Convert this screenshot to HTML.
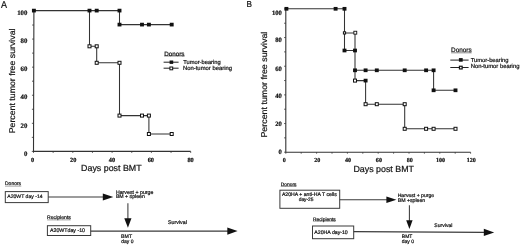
<!DOCTYPE html>
<html><head><meta charset="utf-8"><style>
html,body{margin:0;padding:0;background:#fff;width:520px;height:245px;overflow:hidden}
svg{display:block;will-change:transform;text-rendering:geometricPrecision}
text{font-family:"Liberation Sans",sans-serif;stroke:#151515;stroke-width:0.22px}
.tA{font-family:"Liberation Serif",serif;font-weight:bold;font-size:6.8px;fill:#151515}
.tAx{font-family:"Liberation Serif",serif;font-weight:bold;font-size:6.3px;fill:#151515}
.tBy{font-family:"Liberation Serif",serif;font-weight:bold;font-size:6.6px;fill:#151515}
.tB{font-family:"Liberation Serif",serif;font-weight:bold;font-size:6.1px;fill:#151515}
</style></head><body>
<svg width="520" height="245" viewBox="0 0 520 245">
<rect width="520" height="245" fill="#fff"/>
<text transform="translate(0.9 8.35) scale(0.9 1)" font-size="10" fill="#151515" stroke="#151515" stroke-width="0.25">A</text>
<text transform="translate(246.6 6.6) scale(0.95 1)" font-size="8.6" fill="#151515" stroke="#151515" stroke-width="0.15">B</text>
<path d="M33.9 11.00L33.5 151.40H190.70" fill="none" stroke="#333" stroke-width="1.1"/>
<path d="M31.80 151.40H33.50M31.84 137.36H33.54M31.88 123.32H33.58M31.92 109.28H33.62M31.96 95.24H33.66M32.00 81.20H33.70M32.04 67.16H33.74M32.08 53.12H33.78M32.12 39.08H33.82M32.16 25.04H33.86M32.20 11.00H33.90M33.50 151.40V152.90M53.15 151.40V152.90M72.80 151.40V152.90M92.45 151.40V152.90M112.10 151.40V152.90M131.75 151.40V152.90M151.40 151.40V152.90M171.05 151.40V152.90M190.70 151.40V152.90" fill="none" stroke="#333" stroke-width="0.8"/>
<text x="27.4" y="14.95" class="tA" text-anchor="end">100</text>
<text x="27.4" y="42.80" class="tA" text-anchor="end">80</text>
<text x="27.4" y="71.30" class="tA" text-anchor="end">60</text>
<text x="27.4" y="98.80" class="tA" text-anchor="end">40</text>
<text x="27.4" y="128.30" class="tA" text-anchor="end">20</text>
<text x="27.4" y="155.50" class="tA" text-anchor="end">0</text>
<text x="32.60" y="162.35" class="tAx" text-anchor="middle">0</text>
<text x="73.20" y="162.35" class="tAx" text-anchor="middle">20</text>
<text x="111.90" y="162.35" class="tAx" text-anchor="middle">40</text>
<text x="150.80" y="162.35" class="tAx" text-anchor="middle">60</text>
<text x="190.60" y="162.35" class="tAx" text-anchor="middle">80</text>
<text transform="translate(14.9 80.9) rotate(-90) scale(1 0.95)" text-anchor="middle" font-size="8.77" fill="#151515">Percent tumor free survival</text>
<text x="111.35" y="170.6" text-anchor="middle" font-size="8.85" fill="#151515">Days post BMT</text>
<path d="M33.50 10.60 L89.50 10.60" fill="none" stroke="#333" stroke-width="1.05"/>
<path d="M89.50 10.60 L119.50 10.60 L119.50 24.60 L171.70 24.60" fill="none" stroke="#333" stroke-width="1.05"/>
<path d="M89.50 10.60 L89.50 46.30 L96.70 46.30 L96.70 62.80 L119.50 62.80 L119.50 115.60 L148.90 115.60 L148.90 134.00 L171.70 134.00" fill="none" stroke="#333" stroke-width="1.05"/>
<rect x="88.00" y="44.80" width="3.0" height="3.0" fill="#fff" stroke="#111" stroke-width="1.0"/>
<rect x="95.20" y="44.80" width="3.0" height="3.0" fill="#fff" stroke="#111" stroke-width="1.0"/>
<rect x="95.20" y="61.30" width="3.0" height="3.0" fill="#fff" stroke="#111" stroke-width="1.0"/>
<rect x="118.00" y="61.30" width="3.0" height="3.0" fill="#fff" stroke="#111" stroke-width="1.0"/>
<rect x="118.00" y="114.10" width="3.0" height="3.0" fill="#fff" stroke="#111" stroke-width="1.0"/>
<rect x="140.50" y="114.10" width="3.0" height="3.0" fill="#fff" stroke="#111" stroke-width="1.0"/>
<rect x="147.40" y="114.10" width="3.0" height="3.0" fill="#fff" stroke="#111" stroke-width="1.0"/>
<rect x="147.40" y="132.50" width="3.0" height="3.0" fill="#fff" stroke="#111" stroke-width="1.0"/>
<rect x="170.20" y="132.50" width="3.0" height="3.0" fill="#fff" stroke="#111" stroke-width="1.0"/>
<rect x="31.95" y="8.75" width="3.9" height="3.7" fill="#111"/>
<rect x="87.55" y="8.75" width="3.9" height="3.7" fill="#111"/>
<rect x="94.75" y="8.75" width="3.9" height="3.7" fill="#111"/>
<rect x="117.55" y="8.75" width="3.9" height="3.7" fill="#111"/>
<rect x="117.55" y="22.75" width="3.9" height="3.7" fill="#111"/>
<rect x="140.05" y="22.75" width="3.9" height="3.7" fill="#111"/>
<rect x="146.95" y="22.75" width="3.9" height="3.7" fill="#111"/>
<rect x="169.75" y="22.75" width="3.9" height="3.7" fill="#111"/>
<text x="164.2" y="55.5" font-size="6.3" fill="#151515">Donors</text>
<path d="M164.2 56.0H184.8" fill="none" stroke="#151515" stroke-width="0.5"/>
<path d="M163.6 62.2H178.6M163.6 68.2H178.6" fill="none" stroke="#222" stroke-width="1.0"/>
<rect x="169.60" y="60.50" width="3.6" height="3.4" fill="#111"/>
<rect x="169.90" y="67.00" width="2.8" height="2.8" fill="#fff" stroke="#111" stroke-width="1.0"/>
<text x="183.2" y="64.3" font-size="5.75" fill="#151515">Tumor-bearing</text>
<text x="183.0" y="69.9" font-size="5.88" fill="#151515">Non-tumor bearing</text>
<path d="M285.80 8.90V152.20H470.60" fill="none" stroke="#333" stroke-width="1.1"/>
<path d="M284.10 152.20H285.80M284.10 137.87H285.80M284.10 123.54H285.80M284.10 109.21H285.80M284.10 94.88H285.80M284.10 80.55H285.80M284.10 66.22H285.80M284.10 51.89H285.80M284.10 37.56H285.80M284.10 23.23H285.80M284.10 8.90H285.80M285.80 152.20V153.70M301.20 152.20V153.70M316.60 152.20V153.70M332.00 152.20V153.70M347.40 152.20V153.70M362.80 152.20V153.70M378.20 152.20V153.70M393.60 152.20V153.70M409.00 152.20V153.70M424.40 152.20V153.70M439.80 152.20V153.70M455.20 152.20V153.70M470.60 152.20V153.70" fill="none" stroke="#333" stroke-width="0.8"/>
<text x="281.9" y="14.75" class="tBy" text-anchor="end">100</text>
<text x="281.9" y="42.00" class="tBy" text-anchor="end">80</text>
<text x="281.9" y="71.10" class="tBy" text-anchor="end">60</text>
<text x="281.9" y="98.00" class="tBy" text-anchor="end">40</text>
<text x="281.9" y="125.70" class="tBy" text-anchor="end">20</text>
<text x="281.9" y="153.60" class="tBy" text-anchor="end">0</text>
<text x="284.30" y="162.0" class="tB" text-anchor="middle">0</text>
<text x="317.30" y="162.0" class="tB" text-anchor="middle">20</text>
<text x="348.10" y="162.0" class="tB" text-anchor="middle">40</text>
<text x="378.90" y="162.0" class="tB" text-anchor="middle">60</text>
<text x="409.70" y="162.0" class="tB" text-anchor="middle">80</text>
<text x="440.50" y="162.0" class="tB" text-anchor="middle">100</text>
<text x="471.30" y="162.0" class="tB" text-anchor="middle">120</text>
<text transform="translate(266.6 84.65) rotate(-90) scale(1 0.95)" text-anchor="middle" font-size="8.87" fill="#151515">Percent tumor free survival</text>
<text x="383.7" y="172.3" text-anchor="middle" font-size="8.85" fill="#151515">Days post BMT</text>
<path d="M285.80 8.80 L344.50 8.80" fill="none" stroke="#333" stroke-width="1.05"/>
<path d="M344.50 8.80 L344.50 50.50 L355.00 50.50 L355.00 70.30 L433.60 70.30 L433.60 90.30 L455.50 90.30" fill="none" stroke="#333" stroke-width="1.05"/>
<path d="M344.50 32.90 L355.00 32.90 L355.00 50.50" fill="none" stroke="#333" stroke-width="1.05"/>
<path d="M355.00 70.30 L355.00 80.60 L365.60 80.60 L365.60 104.20 L404.70 104.20 L404.70 128.80 L455.50 128.80" fill="none" stroke="#333" stroke-width="1.05"/>
<rect x="343.40" y="31.80" width="2.2" height="2.2" fill="#fff" stroke="#111" stroke-width="1.0"/>
<rect x="353.85" y="31.25" width="2.9" height="2.9" fill="#fff" stroke="#111" stroke-width="0.9"/>
<rect x="353.50" y="79.10" width="3.0" height="3.0" fill="#fff" stroke="#111" stroke-width="1.0"/>
<rect x="364.10" y="102.70" width="3.0" height="3.0" fill="#fff" stroke="#111" stroke-width="1.0"/>
<rect x="375.30" y="102.70" width="3.0" height="3.0" fill="#fff" stroke="#111" stroke-width="1.0"/>
<rect x="403.20" y="102.70" width="3.0" height="3.0" fill="#fff" stroke="#111" stroke-width="1.0"/>
<rect x="403.20" y="127.30" width="3.0" height="3.0" fill="#fff" stroke="#111" stroke-width="1.0"/>
<rect x="424.60" y="127.30" width="3.0" height="3.0" fill="#fff" stroke="#111" stroke-width="1.0"/>
<rect x="432.10" y="127.30" width="3.0" height="3.0" fill="#fff" stroke="#111" stroke-width="1.0"/>
<rect x="454.00" y="127.30" width="3.0" height="3.0" fill="#fff" stroke="#111" stroke-width="1.0"/>
<rect x="284.45" y="6.95" width="3.9" height="3.7" fill="#111"/>
<rect x="333.65" y="6.95" width="3.9" height="3.7" fill="#111"/>
<rect x="342.55" y="6.95" width="3.9" height="3.7" fill="#111"/>
<rect x="342.55" y="48.65" width="3.9" height="3.7" fill="#111"/>
<rect x="353.05" y="48.65" width="3.9" height="3.7" fill="#111"/>
<rect x="353.05" y="68.45" width="3.9" height="3.7" fill="#111"/>
<rect x="363.65" y="68.45" width="3.9" height="3.7" fill="#111"/>
<rect x="374.85" y="68.45" width="3.9" height="3.7" fill="#111"/>
<rect x="402.75" y="68.45" width="3.9" height="3.7" fill="#111"/>
<rect x="424.15" y="68.45" width="3.9" height="3.7" fill="#111"/>
<rect x="431.65" y="68.45" width="3.9" height="3.7" fill="#111"/>
<rect x="431.65" y="88.45" width="3.9" height="3.7" fill="#111"/>
<rect x="453.55" y="88.45" width="3.9" height="3.7" fill="#111"/>
<rect x="363.65" y="78.75" width="3.9" height="3.7" fill="#111"/>
<text x="451.1" y="52.3" font-size="6.4" fill="#151515">Donors</text>
<path d="M451.1 52.8H471.7" fill="none" stroke="#151515" stroke-width="0.5"/>
<path d="M450.3 60.1H468.6M450.3 67.5H468.6" fill="none" stroke="#222" stroke-width="1.0"/>
<rect x="458.90" y="58.10" width="3.8" height="3.6" fill="#111"/>
<rect x="459.45" y="66.25" width="2.7" height="2.7" fill="#fff" stroke="#111" stroke-width="1.2"/>
<text x="470.7" y="62.4" font-size="5.8" fill="#151515">Tumor-bearing</text>
<text x="470.7" y="68.2" font-size="5.85" fill="#151515">Non-tumor bearing</text>
<text x="5" y="185.4" font-size="5" fill="#151515">Donors</text>
<path d="M5 186.1H21.3" fill="none" stroke="#151515" stroke-width="0.4"/>
<rect x="5.30" y="191.60" width="42.90" height="11.00" fill="none" stroke="#3a3a3a" stroke-width="1.0"/>
<text x="7.3" y="197.5" font-size="5.1" fill="#151515">A20WT day -14</text>
<path d="M48.20 197.00H103.80" fill="none" stroke="#3a3a3a" stroke-width="1.05"/><path d="M102.80 193.50L113.30 197.00L102.80 200.50Z" fill="#111"/>
<text x="115.9" y="193.5" font-size="5.25" fill="#151515">Harvest + purge</text>
<text x="115.9" y="198.4" font-size="5.2" fill="#151515">BM + spleen</text>
<path d="M127.90 203.30V219.20" fill="none" stroke="#3a3a3a" stroke-width="1.05"/><path d="M124.30 218.20L127.90 227.70L131.50 218.20Z" fill="#111"/>
<text x="47.1" y="219.4" font-size="5.1" fill="#151515">Recipients</text>
<path d="M47.1 219.9H70.7" fill="none" stroke="#151515" stroke-width="0.4"/>
<rect x="47.40" y="225.70" width="43.30" height="9.80" fill="none" stroke="#3a3a3a" stroke-width="1.0"/>
<text x="50" y="232.1" font-size="5.25" fill="#151515">A20WTday -10</text>
<path d="M90.70 231.10H228.30" fill="none" stroke="#3a3a3a" stroke-width="1.05"/><path d="M227.30 227.45L237.60 231.10L227.30 234.75Z" fill="#111"/>
<text x="168" y="223.5" font-size="5.3" fill="#151515">Survival</text>
<text x="121.1" y="237.8" font-size="5.2" fill="#151515">BMT</text>
<text x="121.3" y="242.8" font-size="5" fill="#151515">day 0</text>
<text x="280.8" y="185.6" font-size="4.9" fill="#151515">Donors</text>
<path d="M280.8 186.5H296.5" fill="none" stroke="#151515" stroke-width="0.4"/>
<rect x="279.90" y="190.20" width="59.80" height="18.10" fill="none" stroke="#3a3a3a" stroke-width="1.0"/>
<text x="281.9" y="196" font-size="5.15" fill="#151515">A20HA + anti-HA T cells</text>
<text x="298.7" y="200.9" font-size="4.85" fill="#151515">day-25</text>
<path d="M339.70 199.70H387.40" fill="none" stroke="#3a3a3a" stroke-width="1.05"/><path d="M386.40 196.40L396.40 199.70L386.40 203.00Z" fill="#111"/>
<text x="397.7" y="196.8" font-size="5.1" fill="#151515">Harvest + purge</text>
<text x="397.7" y="201.8" font-size="5.2" fill="#151515">BM +spleen</text>
<path d="M409.40 205.20V221.30" fill="none" stroke="#3a3a3a" stroke-width="1.05"/><path d="M406.20 220.30L409.40 229.10L412.60 220.30Z" fill="#111"/>
<text x="312.9" y="220.7" font-size="4.9" fill="#151515">Recipients</text>
<path d="M312.9 221.2H335.7" fill="none" stroke="#151515" stroke-width="0.4"/>
<rect x="312.50" y="226.00" width="41.20" height="12.70" fill="none" stroke="#3a3a3a" stroke-width="1.0"/>
<text x="314.3" y="233.9" font-size="5.2" fill="#151515">A20HA day-10</text>
<path d="M353.7 231.6L485 232.35" fill="none" stroke="#3a3a3a" stroke-width="1.05"/><path d="M483.8 228.8L494.2 232.4L483.8 236.0Z" fill="#111"/>
<text x="434.3" y="226.6" font-size="5.1" fill="#151515">Survival</text>
<text x="401.8" y="238.4" font-size="5" fill="#151515">BMT</text>
<text x="401.8" y="242.6" font-size="5" fill="#151515">day 0</text>
</svg>
</body></html>
